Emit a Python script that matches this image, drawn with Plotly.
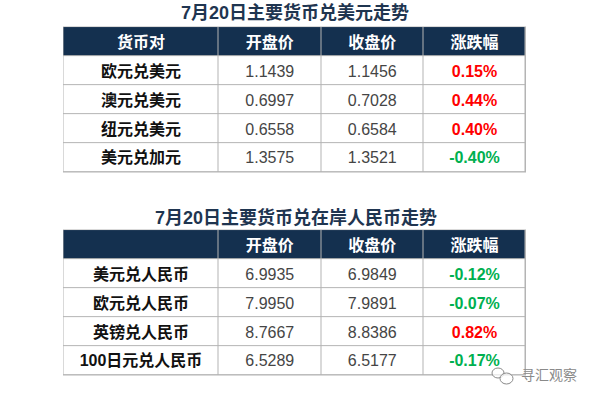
import plotly.graph_objects as go

# table 1: major currencies against the US dollar
title_usd = "7月20日主要货币兑美元走势"
header_usd = ["货币对", "开盘价", "收盘价", "涨跌幅"]
pairs_usd = ["欧元兑美元", "澳元兑美元", "纽元兑美元", "美元兑加元"]
open_usd = ["1.1439", "0.6997", "0.6558", "1.3575"]
close_usd = ["1.1456", "0.7028", "0.6584", "1.3521"]
change_usd = ["0.15%", "0.44%", "0.40%", "-0.40%"]

# table 2: major currencies against onshore RMB
title_cny = "7月20日主要货币兑在岸人民币走势"
header_cny = ["", "开盘价", "收盘价", "涨跌幅"]
pairs_cny = ["美元兑人民币", "欧元兑人民币", "英镑兑人民币", "100日元兑人民币"]
open_cny = ["6.9935", "7.9950", "8.7667", "6.5289"]
close_cny = ["6.9849", "7.9891", "8.8386", "6.5177"]
change_cny = ["-0.12%", "-0.07%", "0.82%", "-0.17%"]

watermark = "寻汇观察"

W, H = 596, 400
NAVY = "#14304f"
BORDER = "#b4b4b4"
UP = "#ff0000"
DOWN = "#00b050"
FONT = "Liberation Sans, Noto Sans CJK SC, sans-serif"

# column edges in pixels from the table's left side
COL_EDGES = [0, 155, 257.5, 360, 462]
ROW_EDGES = [0, 1, 2, 3, 4, 5]
COL_MID = [(a + b) / 2 for a, b in zip(COL_EDGES, COL_EDGES[1:])]
# text sits a little below the row centre, as in the reference
ROW_MID = [0.57, 1.57, 2.57, 3.57, 4.57]


def change_colors(values):
    return [DOWN if v.startswith("-") else UP for v in values]


def bold(values):
    return ["<b>%s</b>" % v for v in values]


fig = go.Figure()


def add_table(header, pairs, opens, closes, changes, top, bottom, n):
    suffix = "" if n == 1 else str(n)
    xa, ya = "x" + suffix, "y" + suffix

    # cell backgrounds; the gaps let the grey plot background show as borders
    fig.add_trace(go.Heatmap(
        x=COL_EDGES, y=ROW_EDGES,
        z=[[1] * 4] + [[0] * 4 for _ in pairs],
        zmin=0, zmax=1,
        colorscale=[[0, "white"], [1, NAVY]],
        showscale=False, xgap=1, ygap=1, hoverinfo="skip",
        xaxis=xa, yaxis=ya,
    ))

    columns = [
        (header[0], bold(pairs), "#111111"),
        (header[1], opens, "#454545"),
        (header[2], closes, "#454545"),
        (header[3], bold(changes), change_colors(changes)),
    ]
    for mid, (head, cells, color) in zip(COL_MID, columns):
        fig.add_trace(go.Scatter(
            x=[mid], y=[ROW_MID[0]], mode="text", text=["<b>%s</b>" % head],
            textfont=dict(family=FONT, size=16, color="white"),
            hoverinfo="skip", showlegend=False, xaxis=xa, yaxis=ya,
        ))
        fig.add_trace(go.Scatter(
            x=[mid] * len(cells), y=ROW_MID[1:], mode="text", text=cells,
            textfont=dict(family=FONT, size=16, color=color),
            hoverinfo="skip", showlegend=False, xaxis=xa, yaxis=ya,
        ))

    hidden = dict(visible=False, fixedrange=True)
    fig.update_layout({
        "xaxis" + suffix: dict(domain=[63 / W, 526 / W], range=[-0.5, 462.5], anchor=ya, **hidden),
        "yaxis" + suffix: dict(domain=[1 - bottom / H, 1 - top / H], range=[5.02, -0.02], anchor=xa, **hidden),
    })


add_table(header_usd, pairs_usd, open_usd, close_usd, change_usd, 26.5, 172.5, 1)
add_table(header_cny, pairs_cny, open_cny, close_cny, change_cny, 229.5, 375.5, 2)

for text, x, y in [(title_usd, 294.5, 13), (title_cny, 295.5, 217)]:
    fig.add_annotation(
        text="<b>%s</b>" % text, x=x / W, y=1 - y / H, xref="paper", yref="paper",
        showarrow=False, xanchor="center", yanchor="middle",
        font=dict(family=FONT, size=18, color="#1f3550"),
    )

fig.add_annotation(
    text=watermark, x=548.5 / W, y=1 - 375 / H, xref="paper", yref="paper",
    showarrow=False, xanchor="center", yanchor="middle",
    font=dict(family=FONT, size=14, color="#8a8a8a"),
)

# small chat-bubble logo next to the watermark
for x0, y0, x1, y1 in [(492, 368, 504, 378), (500, 373, 513, 384)]:
    fig.add_shape(
        type="circle", xref="paper", yref="paper",
        x0=x0 / W, x1=x1 / W, y0=1 - y1 / H, y1=1 - y0 / H,
        line=dict(color="#8a8a8a", width=1), fillcolor="rgba(255,255,255,0.7)",
    )

fig.update_layout(
    width=W, height=H,
    margin=dict(l=0, r=0, t=0, b=0),
    paper_bgcolor="white",
    plot_bgcolor=BORDER,
    showlegend=False,
)

fig.write_html(
    "out.html",
    config=dict(displayModeBar=False),
    post_script="document.body.style.margin='0';",
)
